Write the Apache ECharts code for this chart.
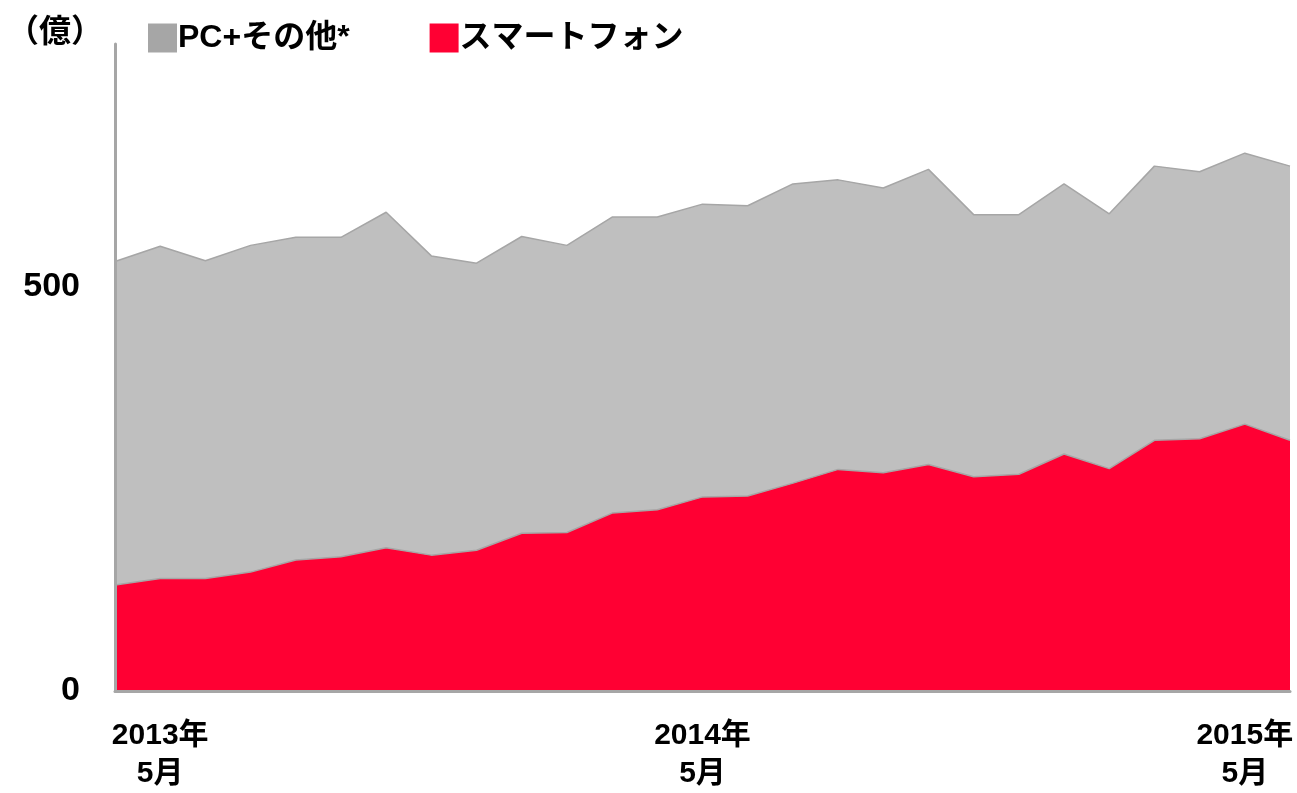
<!DOCTYPE html>
<html>
<head>
<meta charset="utf-8">
<script src="https://cdn.jsdelivr.net/npm/echarts@6/dist/echarts.min.js"></script>
<style>
  html, body { margin: 0; padding: 0; background: #fff; }
  #chart { width: 1297px; height: 793px; }
</style>
</head>
<body>
<div id="chart"></div>
<script>
// 4週ごとの期間 (27点)、ラベルは 2013年5月 / 2014年5月 / 2015年5月 のみ
var categories = [
  '', '2013年\n5月', '', '', '', '', '', '', '', '', '', '', '',
  '2014年\n5月', '', '', '', '', '', '', '', '', '', '', '',
  '2015年\n5月', ''
];

// スマートフォン (億)
var smartphone = [131, 139, 139, 147, 162, 166, 177, 168, 174, 195, 196, 220, 224,
  240, 241, 257, 274, 270, 280, 265, 268, 293, 275, 310, 312, 330, 310];

// PC+その他 (億)
var pcOther = [400, 411, 393, 404, 399, 395, 415, 370, 355, 367, 355, 366, 362,
  362, 359, 370, 358, 352, 365, 324, 321, 334, 315, 339, 330, 335, 339];

var yTicks = [0, 500];

var FONT = '"Liberation Sans", "Noto Sans CJK JP", sans-serif';

var chart = echarts.init(document.getElementById('chart'));

chart.setOption({
  animation: false,
  title: {
    text: '（億）',
    left: 2,
    top: 12,
    textStyle: { fontFamily: FONT, fontSize: 32, fontWeight: 'bold', color: '#000' }
  },
  legend: {
    left: 143,
    top: 17,
    itemWidth: 29,
    itemHeight: 29,
    itemGap: 80,
    icon: 'rect',
    textStyle: { fontFamily: FONT, fontSize: 32, fontWeight: 'bold', color: '#000', padding: [0, 0, 0, -4] },
    data: [
      { name: 'PC+その他*', itemStyle: { color: '#A6A6A6', borderWidth: 0 } },
      { name: 'スマートフォン', itemStyle: { color: '#FF0033', borderWidth: 0 } }
    ]
  },
  grid: { left: 115, right: 7, top: 44, bottom: 101 },
  xAxis: {
    type: 'category',
    data: categories,
    boundaryGap: false,
    z: 5,
    axisLine: { lineStyle: { color: '#A6A6A6', width: 3 } },
    axisTick: { show: false },
    axisLabel: {
      interval: function (i, v) { return v !== ''; },
      margin: 26,
      fontFamily: FONT,
      fontSize: 30,
      fontWeight: 'bold',
      color: '#000',
      lineHeight: 38
    },
    splitLine: { show: false }
  },
  yAxis: {
    type: 'value',
    min: 0,
    max: 800,
    interval: 500,
    z: 5,
    axisLine: { show: true, lineStyle: { color: '#A6A6A6', width: 3 } },
    axisTick: { show: false },
    splitLine: { show: false },
    axisLabel: {
      margin: 35,
      fontFamily: FONT,
      fontSize: 34,
      fontWeight: 'bold',
      color: '#000',
      formatter: function (v) { return yTicks.indexOf(v) >= 0 ? String(v) : ''; }
    }
  },
  series: [
    {
      name: 'スマートフォン',
      type: 'line',
      stack: 'total',
      data: smartphone,
      symbol: 'none',
      itemStyle: { color: '#FF0033' },
      lineStyle: { color: '#A6A6A6', width: 1.5 },
      areaStyle: { color: '#FF0033', opacity: 1 },
      z: 3
    },
    {
      name: 'PC+その他*',
      type: 'line',
      stack: 'total',
      data: pcOther,
      symbol: 'none',
      itemStyle: { color: '#A6A6A6' },
      lineStyle: { color: '#A6A6A6', width: 1.5 },
      areaStyle: { color: '#BFBFBF', opacity: 1 },
      z: 2
    }
  ]
});
</script>
</body>
</html>
